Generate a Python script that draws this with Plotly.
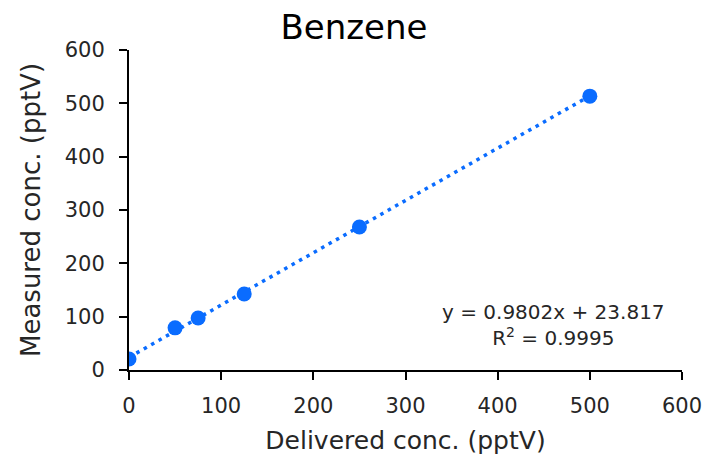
import plotly.graph_objects as go

delivered = [0, 50, 75, 125, 250, 500]
measured = [20.5, 79, 97.5, 142.5, 268, 513.5]
slope = 0.9802
intercept = 23.817
r2 = 0.9995
fit_x = [0, 500]
fit_y = [slope * x + intercept for x in fit_x]

blue = "#0a6cff"
txt = "#262626"
font_family = "'DejaVu Sans', sans-serif"

fig = go.Figure()
fig.add_trace(go.Scatter(x=fit_x, y=fit_y, mode="lines",
                         line=dict(color=blue, width=3.5, dash="3.5px,5px"),
                         hoverinfo="skip", showlegend=False))
fig.add_trace(go.Scatter(x=delivered, y=measured, mode="markers",
                         marker=dict(color=blue, size=15, line=dict(width=0)),
                         showlegend=False))

fig.add_annotation(x=0.767, y=0.142, xref="paper", yref="paper",
                   text=f"y = {slope}x + {intercept}<br>R<sup>2</sup> = {r2}",
                   showarrow=False, align="center", xanchor="center", yanchor="middle",
                   font=dict(size=20, color=txt, family=font_family))

axis_common = dict(showgrid=False, zeroline=False, showline=True, linecolor="black",
                   linewidth=2, ticks="outside", ticklen=8, tickwidth=2, tickcolor="black",
                   tickfont=dict(size=21, color=txt, family=font_family), dtick=100,
                   range=[0, 600], automargin=False)

fig.update_layout(
    width=708, height=456,
    margin=dict(l=129, r=26, t=50, b=86),
    paper_bgcolor="white", plot_bgcolor="white",
    title=dict(text="Benzene", x=0.5, xref="container", xanchor="center",
               y=0.94, yanchor="middle", automargin=False,
               font=dict(size=34, color="black", family=font_family)),
    xaxis=dict(**axis_common,
               title=dict(text="Delivered conc. (pptV)", standoff=14,
                          font=dict(size=25, color=txt, family=font_family))),
    yaxis=dict(**axis_common,
               title=dict(text="Measured conc. (pptV)", standoff=17,
                          font=dict(size=26, color=txt, family=font_family))),
)
fig.update_xaxes(ticklabelstandoff=8)
fig.update_yaxes(ticklabelstandoff=10)
fig.write_html("out.html")
